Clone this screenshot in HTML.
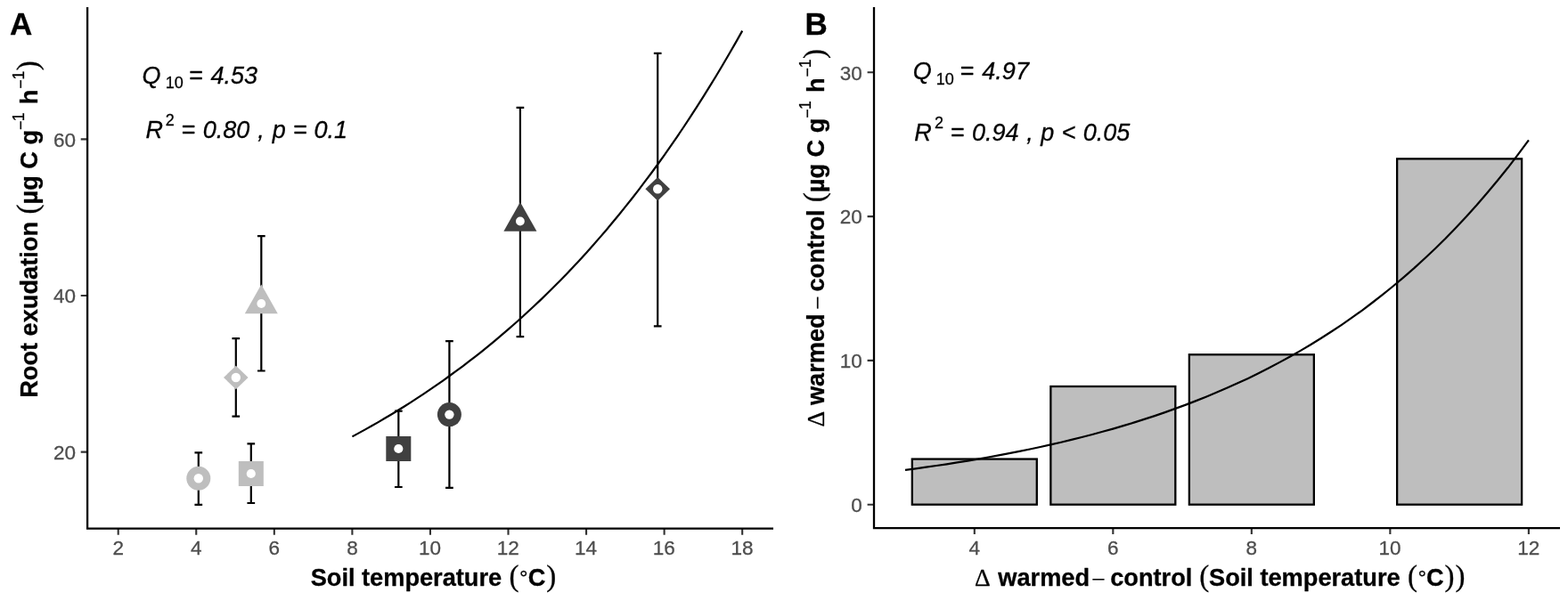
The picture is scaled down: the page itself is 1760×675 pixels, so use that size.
<!DOCTYPE html>
<html lang="en">
<head>
<meta charset="utf-8">
<title>Root exudation and soil temperature</title>
<style>
html,body{margin:0;padding:0;background:#fff;}
body{width:1760px;height:675px;overflow:hidden;}
svg{display:block;}
text{font-family:"Liberation Sans",sans-serif;fill:#000;stroke:#000;stroke-width:0.3px;stroke-linejoin:round;white-space:pre;}
.b{font-family:"Liberation Sans",sans-serif;font-weight:bold;font-size:27.2px;}
.par{font-family:"Liberation Serif",serif;font-size:33px;}
.deg{font-family:"Liberation Serif",serif;font-weight:bold;font-size:21.5px;}
.sym{font-family:"Liberation Serif",serif;font-size:27.5px;}
.sup{font-family:"Liberation Sans",sans-serif;font-size:17.7px;}
.it{font-family:"Liberation Sans",sans-serif;font-style:italic;font-size:27px;}
.rg{font-family:"Liberation Sans",sans-serif;font-size:27px;}
.sub{font-family:"Liberation Sans",sans-serif;font-size:18px;}
.tl{font-family:"Liberation Sans",sans-serif;font-size:22.5px;}
.pl{font-family:"Liberation Sans",sans-serif;font-weight:bold;font-size:35px;}
.tl{fill:#4D4D4D;stroke:#4D4D4D;}
</style>
</head>
<body>
<svg width="1760" height="675" viewBox="0 0 1760 675">
<rect x="0" y="0" width="1760" height="675" fill="#fff"/>

<g id="panelA">
<polyline points="395.4,490.4 402.7,486.4 410.0,482.4 417.3,478.3 424.6,474.1 431.9,469.8 439.2,465.5 446.5,461.0 453.8,456.5 461.1,451.9 468.3,447.2 475.6,442.3 482.9,437.4 490.2,432.4 497.5,427.3 504.8,422.0 512.1,416.7 519.4,411.3 526.7,405.7 534.0,400.1 541.3,394.3 548.6,388.4 555.9,382.3 563.2,376.2 570.5,369.9 577.8,363.5 585.1,357.0 592.4,350.3 599.7,343.5 607.0,336.6 614.3,329.5 621.6,322.3 628.9,314.9 636.2,307.4 643.5,299.7 650.8,291.9 658.1,283.9 665.4,275.8 672.7,267.4 680.0,259.0 687.2,250.3 694.5,241.5 701.8,232.4 709.1,223.2 716.4,213.8 723.7,204.2 731.0,194.5 738.3,184.5 745.6,174.3 752.9,163.9 760.2,153.3 767.5,142.5 774.8,131.4 782.1,120.2 789.4,108.7 796.7,96.9 804.0,85.0 811.3,72.7 818.6,60.3 825.9,47.6 833.2,34.6" fill="none" stroke="#000" stroke-width="2.2" stroke-linejoin="round"/>
<path d="M218.45 508.40H227.15M222.80 508.40V566.80M218.45 566.80H227.15M277.45 498.30H286.15M281.80 498.30V565.00M277.45 565.00H286.15M260.45 380.10H269.15M264.80 380.10V467.60M260.45 467.60H269.15M288.95 265.10H297.65M293.30 265.10V416.50M288.95 416.50H297.65M442.95 461.70H451.65M447.30 461.70V547.00M442.95 547.00H451.65M500.05 383.10H508.75M504.40 383.10V547.90M500.05 547.90H508.75M579.55 120.80H588.25M583.90 120.80V378.20M579.55 378.20H588.25M733.85 59.90H742.55M738.20 59.90V366.30M733.85 366.30H742.55" fill="none" stroke="#000" stroke-width="2.2"/>
<circle cx="222.80" cy="537.20" r="13.5" fill="#BEBEBE"/><circle cx="222.80" cy="537.20" r="5.2" fill="#fff"/>
<rect x="267.80" y="518.00" width="28.0" height="28.0" fill="#BEBEBE"/><circle cx="281.80" cy="532.00" r="5.1" fill="#fff"/>
<path d="M264.80 410.70L278.60 424.00L264.80 437.30L251.00 424.00Z" fill="#BEBEBE"/><circle cx="264.80" cy="424.00" r="5.2" fill="#fff"/>
<path d="M293.30 319.57L311.80 352.17L274.80 352.17Z" fill="#BEBEBE"/><circle cx="293.30" cy="341.00" r="4.9" fill="#fff"/>
<rect x="433.30" y="490.00" width="28.0" height="28.0" fill="#404040"/><circle cx="447.30" cy="504.00" r="5.1" fill="#fff"/>
<circle cx="504.40" cy="465.60" r="13.5" fill="#404040"/><circle cx="504.40" cy="465.60" r="5.2" fill="#fff"/>
<path d="M583.90 227.07L602.40 259.67L565.40 259.67Z" fill="#404040"/><circle cx="583.90" cy="248.50" r="4.9" fill="#fff"/>
<path d="M738.20 198.90L752.00 212.20L738.20 225.50L724.40 212.20Z" fill="#404040"/><circle cx="738.20" cy="212.20" r="5.2" fill="#fff"/>
<path d="M132.70 593.70V600.70M220.26 593.70V600.70M307.82 593.70V600.70M395.38 593.70V600.70M482.94 593.70V600.70M570.50 593.70V600.70M658.06 593.70V600.70M745.62 593.70V600.70M833.18 593.70V600.70M90.70 507.60H98.10M90.70 332.00H98.10M90.70 156.40H98.10" fill="none" stroke="#333333" stroke-width="2.1"/>
<path d="M98.10 8.00V593.70H868.00" fill="none" stroke="#000000" stroke-width="2.3" stroke-linejoin="miter"/>
<text><tspan class="tl" x="126.45" y="622.80">2</tspan></text>
<text><tspan class="tl" x="214.01" y="622.80">4</tspan></text>
<text><tspan class="tl" x="301.57" y="622.80">6</tspan></text>
<text><tspan class="tl" x="389.13" y="622.80">8</tspan></text>
<text><tspan class="tl" x="470.06" y="622.80">10</tspan></text>
<text><tspan class="tl" x="557.75" y="622.80">12</tspan></text>
<text><tspan class="tl" x="645.06" y="622.80">14</tspan></text>
<text><tspan class="tl" x="732.87" y="622.80">16</tspan></text>
<text><tspan class="tl" x="820.43" y="622.80">18</tspan></text>
<text><tspan class="tl" x="60.05" y="515.90">20</tspan></text>
<text><tspan class="tl" x="60.05" y="340.30">40</tspan></text>
<text><tspan class="tl" x="60.05" y="164.70">60</tspan></text>
<text><tspan class="pl" x="10.90" y="38.50">A</tspan></text>
<text><tspan class="it" x="159.45" y="93.80">Q</tspan><tspan class="sub" x="185.65" y="99.10">10 </tspan><tspan class="rg" x="212.35" y="93.80">= </tspan><tspan class="it" x="236.45" y="93.80">4.53</tspan></text>
<text><tspan class="it" x="163.45" y="155.10">R</tspan><tspan class="sub" x="185.65" y="140.90">2 </tspan><tspan class="rg" x="203.85" y="155.10">= </tspan><tspan class="it" x="227.70" y="155.10">0.80 </tspan><tspan class="it" x="289.30" y="155.10">, </tspan><tspan class="it" x="305.85" y="155.10">p </tspan><tspan class="rg" x="329.15" y="155.10">= </tspan><tspan class="it" x="352.60" y="155.10">0.1</tspan></text>
<text><tspan class="b" x="348.65" y="658.00">Soil temperature </tspan><tspan class="par" x="571.55" y="658.00">(</tspan><tspan class="deg" x="583.60" y="654.80">°</tspan><tspan class="b" x="592.70" y="658.00">C</tspan><tspan class="par" x="613.20" y="658.00">)</tspan></text>
<text transform="translate(42.3 445.1) rotate(-90)"><tspan class="b" x="-1.75" y="0.00">Root exudation </tspan><tspan class="par" x="204.55" y="0.00">(</tspan><tspan class="b" x="215.65" y="0.00">µg C g</tspan><tspan class="sup" x="299.05" y="-12.90">−</tspan><tspan class="sup" x="308.95" y="-15.20">1 </tspan><tspan class="b" x="327.85" y="0.00">h</tspan><tspan class="sup" x="345.35" y="-12.90">−</tspan><tspan class="sup" x="355.55" y="-15.20">1</tspan><tspan class="par" x="365.80" y="0.00">)</tspan></text>
</g>
<g id="panelB">
<rect x="1023.82" y="515.57" width="139.97" height="51.13" fill="#BEBEBE" stroke="#000" stroke-width="2.3"/>
<rect x="1179.34" y="434.02" width="139.97" height="132.68" fill="#BEBEBE" stroke="#000" stroke-width="2.3"/>
<rect x="1334.86" y="398.27" width="139.97" height="168.43" fill="#BEBEBE" stroke="#000" stroke-width="2.3"/>
<rect x="1568.14" y="178.38" width="139.97" height="388.32" fill="#BEBEBE" stroke="#000" stroke-width="2.3"/>
<polyline points="1016.0,527.9 1027.7,526.3 1039.4,524.7 1051.0,523.0 1062.7,521.3 1074.4,519.4 1086.0,517.6 1097.7,515.6 1109.4,513.5 1121.0,511.4 1132.7,509.2 1144.3,506.9 1156.0,504.5 1167.7,502.0 1179.3,499.4 1191.0,496.7 1202.7,493.9 1214.3,491.0 1226.0,488.0 1237.7,484.8 1249.3,481.6 1261.0,478.1 1272.6,474.6 1284.3,470.9 1296.0,467.1 1307.6,463.1 1319.3,458.9 1331.0,454.6 1342.6,450.1 1354.3,445.5 1366.0,440.6 1377.6,435.6 1389.3,430.3 1401.0,424.9 1412.6,419.2 1424.3,413.3 1435.9,407.1 1447.6,400.8 1459.3,394.1 1470.9,387.2 1482.6,380.0 1494.3,372.5 1505.9,364.8 1517.6,356.7 1529.3,348.3 1540.9,339.5 1552.6,330.4 1564.2,321.0 1575.9,311.1 1587.6,300.9 1599.2,290.3 1610.9,279.2 1622.6,267.7 1634.2,255.7 1645.9,243.3 1657.6,230.3 1669.2,216.8 1680.9,202.8 1692.6,188.3 1704.2,173.1 1715.9,157.4" fill="none" stroke="#000" stroke-width="2.2" stroke-linejoin="round"/>
<path d="M1093.80 593.10V600.10M1249.32 593.10V600.10M1404.84 593.10V600.10M1560.36 593.10V600.10M1715.88 593.10V600.10M973.60 566.70H981.00M973.60 404.90H981.00M973.60 243.10H981.00M973.60 81.30H981.00" fill="none" stroke="#333333" stroke-width="2.1"/>
<path d="M981.00 8.00V593.10H1751.00" fill="none" stroke="#000000" stroke-width="2.3" stroke-linejoin="miter"/>
<text><tspan class="tl" x="1087.55" y="622.80">4</tspan></text>
<text><tspan class="tl" x="1243.07" y="622.80">6</tspan></text>
<text><tspan class="tl" x="1398.59" y="622.80">8</tspan></text>
<text><tspan class="tl" x="1547.49" y="622.80">10</tspan></text>
<text><tspan class="tl" x="1703.13" y="622.80">12</tspan></text>
<text><tspan class="tl" x="955.25" y="575.00">0</tspan></text>
<text><tspan class="tl" x="942.75" y="413.20">10</tspan></text>
<text><tspan class="tl" x="942.75" y="251.40">20</tspan></text>
<text><tspan class="tl" x="942.75" y="89.60">30</tspan></text>
<text><tspan class="pl" x="903.55" y="38.50">B</tspan></text>
<text><tspan class="it" x="1024.85" y="89.30">Q</tspan><tspan class="sub" x="1050.65" y="94.60">10 </tspan><tspan class="rg" x="1077.75" y="89.30">= </tspan><tspan class="it" x="1102.35" y="89.30">4.97</tspan></text>
<text><tspan class="it" x="1026.25" y="158.20">R</tspan><tspan class="sub" x="1048.95" y="144.00">2 </tspan><tspan class="rg" x="1067.05" y="158.20">= </tspan><tspan class="it" x="1090.90" y="158.20">0.94 </tspan><tspan class="it" x="1152.30" y="158.20">, </tspan><tspan class="it" x="1168.15" y="158.20">p </tspan><tspan class="rg" x="1191.95" y="158.20">&lt; </tspan><tspan class="it" x="1215.80" y="158.20">0.05</tspan></text>
<text><tspan class="sym" x="1094.10" y="658.00">Δ </tspan><tspan class="b" x="1120.30" y="658.00">warmed </tspan><tspan class="sym" x="1225.25" y="660.20">− </tspan><tspan class="b" x="1246.20" y="658.00">control </tspan><tspan class="par" x="1346.35" y="658.00">(</tspan><tspan class="b" x="1357.05" y="658.00">Soil temperature </tspan><tspan class="par" x="1579.95" y="658.00">(</tspan><tspan class="deg" x="1592.00" y="654.80">°</tspan><tspan class="b" x="1601.10" y="658.00">C</tspan><tspan class="par" x="1621.60" y="658.00">)</tspan><tspan class="par" x="1633.50" y="658.00">)</tspan></text>
<text transform="translate(925.0 478.6) rotate(-90)"><tspan class="sym" x="-1.00" y="0.00">Δ </tspan><tspan class="b" x="23.50" y="0.00">warmed </tspan><tspan class="sym" x="130.95" y="2.20">− </tspan><tspan class="b" x="151.10" y="0.00">control </tspan><tspan class="par" x="251.25" y="0.00">(</tspan><tspan class="b" x="262.35" y="0.00">µg C g</tspan><tspan class="sup" x="345.75" y="-12.90">−</tspan><tspan class="sup" x="355.65" y="-15.20">1 </tspan><tspan class="b" x="374.55" y="0.00">h</tspan><tspan class="sup" x="392.05" y="-12.90">−</tspan><tspan class="sup" x="402.25" y="-15.20">1</tspan><tspan class="par" x="412.50" y="0.00">)</tspan></text>
</g>
</svg>
</body>
</html>
